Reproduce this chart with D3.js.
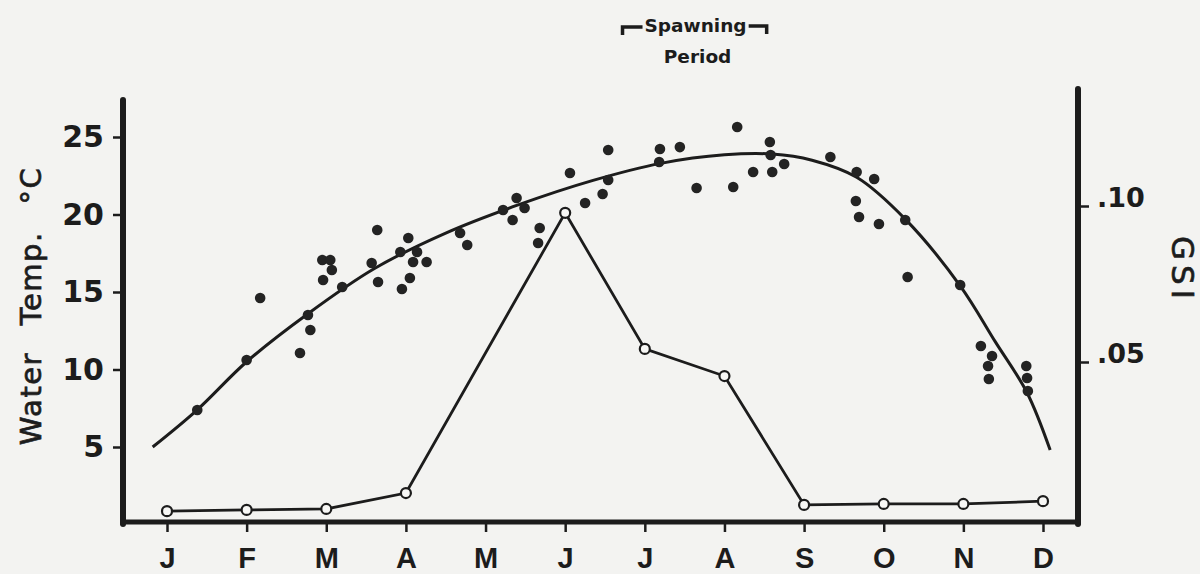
<!DOCTYPE html>
<html>
<head>
<meta charset="utf-8">
<script src="https://cdn.jsdelivr.net/npm/d3@7"></script>
<style>
  html, body { margin: 0; padding: 0; background: #f3f3f1; }
  svg { display: block; }
</style>
</head>
<body>
<svg id="chart" width="1200" height="574"></svg>
<script>
// Month labels along the bottom axis (index 0 = January)
const monthLabels = ["J", "F", "M", "A", "M", "J", "J", "A", "S", "O", "N", "D"];

// Left axis ticks (water temperature, °C) and right axis ticks (GSI)
const tempTicks = [5, 10, 15, 20, 25];
const gsiTicks = [0.05, 0.10];

// Fitted seasonal temperature curve (month position, °C)
const curveMonths = [-0.18, 0.38, 1.0, 1.77, 2.6, 3.5, 4.4, 5.35, 6.2, 7.0, 7.6, 8.1, 8.66, 9.27, 9.96, 10.4, 10.8, 11.09];
const curveTemps  = [5.0, 7.4, 10.5, 13.6, 16.5, 18.8, 20.6, 22.2, 23.3, 23.85, 23.9, 23.5, 22.4, 19.7, 15.4, 11.8, 8.5, 4.8];

// Individual water temperature observations (month position, °C)
const obsMonths = [0.38, 1.00, 1.17, 1.67, 1.80, 1.77, 1.95, 2.05, 2.07, 1.96, 2.20, 2.57, 2.64, 2.65, 2.93,
  3.03, 3.14, 3.09, 3.26, 3.05, 2.95, 3.68, 3.77, 4.22, 4.39, 4.49, 4.34, 4.68, 4.66, 5.06,
  5.25, 5.47, 5.54, 5.54, 6.19, 6.18, 6.44, 6.65, 7.11, 7.16, 7.36, 7.57, 7.58, 7.60, 7.75,
  8.33, 8.66, 8.88, 8.65, 8.69, 8.94, 9.27, 9.30, 9.96, 10.22, 10.36, 10.31, 10.32, 10.79, 10.80, 10.81];
const obsTemps = [7.39, 10.61, 14.61, 11.06, 12.55, 13.52, 17.06, 17.06, 16.42, 15.77, 15.32, 16.87, 19.0, 15.65, 17.58,
  18.48, 17.58, 16.94, 16.94, 15.9, 15.19, 18.81, 18.03, 20.29, 21.06, 20.42, 19.65, 19.13, 18.16, 22.68,
  20.74, 21.32, 24.16, 22.23, 24.23, 23.39, 24.35, 21.71, 21.77, 25.65, 22.74, 24.68, 23.84, 22.74, 23.26,
  23.71, 22.74, 22.29, 20.87, 19.84, 19.39, 19.65, 15.97, 15.45, 11.52, 10.87, 10.23, 9.39, 10.23, 9.45, 8.61];

// Monthly gonadosomatic index (no May sample)
const gsiMonths = [0, 1, 2, 3, 5, 6, 7, 8, 9, 10, 11];
const gsiValues = [0.0022, 0.0026, 0.0029, 0.008, 0.0978, 0.0542, 0.0455, 0.0042, 0.0045, 0.0045, 0.0054];

// Spawning period bracket (month positions)
const spawnStart = 5.72, spawnEnd = 7.53;

const ink = "#1c1c1c";
const svg = d3.select("#chart");

// Scales
const x = d3.scaleLinear().domain([0, 11]).range([167, 1043]);
const yT = d3.scaleLinear().domain([0, 25]).range([524.5, 137]);
const yG = d3.scaleLinear().domain([0, 0.10]).range([518, 206]);

const leftX = 123, rightX = 1078, baseY = 522;

// Frame lines
svg.append("line").attr("x1", leftX).attr("x2", leftX).attr("y1", 100).attr("y2", baseY + 2)
  .attr("stroke", ink).attr("stroke-width", 6).attr("stroke-linecap", "round");
svg.append("line").attr("x1", rightX).attr("x2", rightX).attr("y1", 89).attr("y2", baseY + 2)
  .attr("stroke", ink).attr("stroke-width", 6).attr("stroke-linecap", "round");
svg.append("line").attr("x1", leftX - 3).attr("x2", rightX + 3).attr("y1", baseY).attr("y2", baseY)
  .attr("stroke", ink).attr("stroke-width", 5);

// Left axis (temperature)
const gL = svg.append("g").attr("transform", `translate(${leftX - 3},0)`)
  .call(d3.axisLeft(yT).tickValues(tempTicks).tickSize(7).tickSizeOuter(0).tickPadding(9).tickFormat(d3.format("d")));
gL.select(".domain").remove();
gL.selectAll(".tick line").attr("stroke", ink).attr("stroke-width", 2.5);
gL.selectAll(".tick text").attr("fill", ink)
  .style("font-family", "'DejaVu Sans', sans-serif").style("font-weight", "bold").style("font-size", "30px");

// Right axis (GSI)
const gR = svg.append("g").attr("transform", `translate(${rightX + 3},0)`)
  .call(d3.axisRight(yG).tickValues(gsiTicks).tickSize(8).tickSizeOuter(0).tickPadding(8)
    .tickFormat(d => d3.format(".2f")(d).replace(/^0/, "")));
gR.select(".domain").remove();
gR.selectAll(".tick line").attr("stroke", ink).attr("stroke-width", 2.5);
gR.selectAll(".tick text").attr("fill", ink).attr("dy", "0.02em")
  .style("font-family", "'DejaVu Sans', sans-serif").style("font-weight", "bold").style("font-size", "27px");

// Bottom axis (months)
const gB = svg.append("g").attr("transform", `translate(0,${baseY + 2})`)
  .call(d3.axisBottom(x).tickValues(d3.range(12)).tickSize(8).tickSizeOuter(0).tickFormat(i => monthLabels[i]));
gB.select(".domain").remove();
gB.selectAll(".tick line").attr("stroke", ink).attr("stroke-width", 2.5);
gB.selectAll(".tick text").attr("fill", ink).attr("y", 44).attr("dy", null)
  .style("font-family", "'Liberation Sans', Arial, sans-serif").style("font-weight", "bold").style("font-size", "29px");

// Axis titles
svg.append("text")
  .attr("transform", "translate(41,306) rotate(-90)")
  .attr("text-anchor", "middle")
  .attr("fill", ink).attr("stroke", ink).attr("stroke-width", 0.7)
  .style("font-family", "'DejaVu Sans', sans-serif").style("font-size", "29px")
  .style("word-spacing", "16px").style("letter-spacing", "1.5px")
  .text("Water Temp. °C");

svg.append("text")
  .attr("transform", "translate(1172,270) rotate(90)")
  .attr("text-anchor", "middle")
  .attr("fill", ink).attr("stroke", ink).attr("stroke-width", 0.7)
  .style("font-family", "'DejaVu Sans', sans-serif").style("font-size", "31px")
  .style("letter-spacing", "5px")
  .text("GSI");

// Spawning period annotation
const sx0 = x(spawnStart), sx1 = x(spawnEnd);
svg.append("path")
  .attr("d", `M${sx0},35 L${sx0},27 L${sx0 + 20},27`)
  .attr("fill", "none").attr("stroke", ink).attr("stroke-width", 3.5);
svg.append("path")
  .attr("d", `M${sx1 - 18},26 L${sx1},26 L${sx1},34`)
  .attr("fill", "none").attr("stroke", ink).attr("stroke-width", 3.5);
svg.append("text").attr("x", (sx0 + sx1) / 2 + 1).attr("y", 32).attr("text-anchor", "middle").attr("fill", ink)
  .style("font-family", "'DejaVu Sans', sans-serif").style("font-weight", "bold").style("font-size", "18.5px")
  .text("Spawning");
svg.append("text").attr("x", (sx0 + sx1) / 2 + 3).attr("y", 63).attr("text-anchor", "middle").attr("fill", ink)
  .style("font-family", "'DejaVu Sans', sans-serif").style("font-weight", "bold").style("font-size", "18.5px")
  .text("Period");

// Temperature curve
const curveData = curveMonths.map((m, i) => ({ m, t: curveTemps[i] }));
svg.append("path")
  .datum(curveData)
  .attr("fill", "none").attr("stroke", ink).attr("stroke-width", 3)
  .attr("d", d3.line().x(d => x(d.m)).y(d => yT(d.t)).curve(d3.curveCatmullRom.alpha(0.5)));

// Temperature observations
const obs = obsMonths.map((m, i) => ({ m, t: obsTemps[i] }));
svg.append("g").selectAll("circle").data(obs).join("circle")
  .attr("cx", d => x(d.m)).attr("cy", d => yT(d.t)).attr("r", 5.3)
  .attr("fill", "#232323");

// GSI line with open circles
const gsi = gsiMonths.map((m, i) => ({ m, g: gsiValues[i] }));
svg.append("path")
  .datum(gsi)
  .attr("fill", "none").attr("stroke", ink).attr("stroke-width", 2.8)
  .attr("d", d3.line().x(d => x(d.m)).y(d => yG(d.g)));
svg.append("g").selectAll("circle").data(gsi).join("circle")
  .attr("cx", d => x(d.m)).attr("cy", d => yG(d.g)).attr("r", 5)
  .attr("fill", "#f7f7f5").attr("stroke", ink).attr("stroke-width", 2.2);
</script>
</body>
</html>
